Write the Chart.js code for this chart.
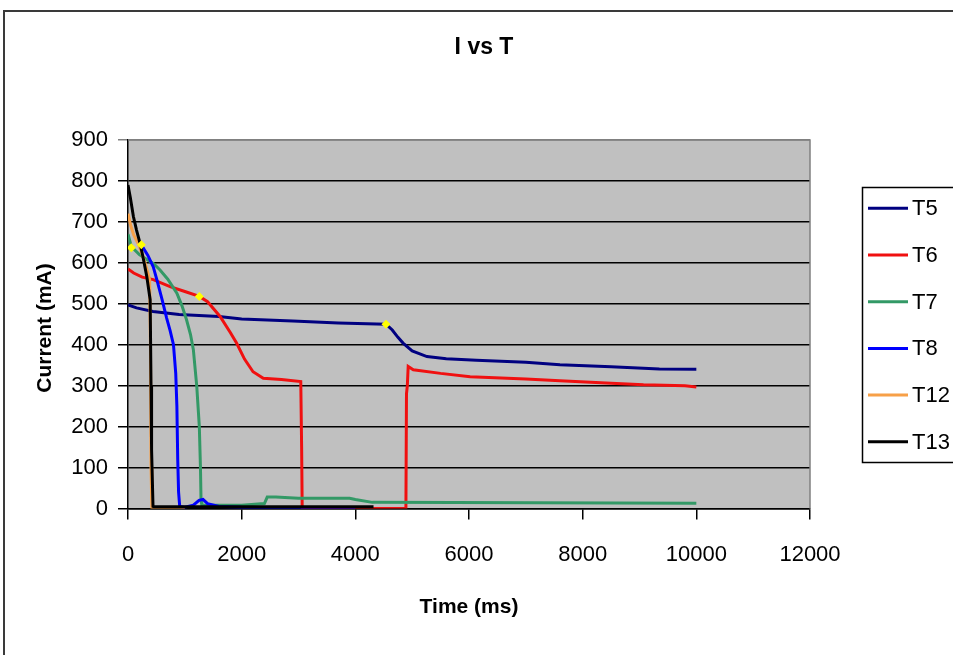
<!DOCTYPE html>
<html>
<head>
<meta charset="utf-8">
<script src="https://cdn.jsdelivr.net/npm/chart.js@4"></script>
<style>
  html, body { margin: 0; padding: 0; background: #ffffff; }
  #wrap { position: relative; width: 953px; height: 655px; }
</style>
</head>
<body>
<div id="wrap"><canvas id="c"></canvas></div>
<script>
// ---- Data ----
const chartTitle = "I vs T";
const xAxisTitle = "Time (ms)";
const yAxisTitle = "Current (mA)";
const seriesNames = ["T5", "T6", "T7", "T8", "T12", "T13"];
const seriesColors = ["#000080", "#F01010", "#339966", "#0000FF", "#F7A048", "#000000"];

const t5Time    = [0, 150, 440, 900, 1600, 2000, 2900, 3700, 4540, 4650, 4750, 4840, 5000, 5260, 5600, 6130, 7000, 7600, 8500, 9350, 10000];
const t5Current = [497, 490, 481, 474, 469, 463, 458, 453, 450, 436, 418, 404, 385, 371, 366, 362, 357, 351, 346, 341, 340];

const t6Time    = [0, 100, 250, 445, 740, 1000, 1255, 1400, 1620, 1800, 1910, 2050, 2200, 2380, 2700, 3040, 3055, 3065, 4890, 4900, 4915, 4930, 5020, 5500, 6020, 7000, 7600, 8500, 9070, 9800, 10000];
const t6Current = [585, 575, 565, 559, 542, 530, 518, 505, 469, 430, 404, 365, 334, 318, 315, 310, 150, 0, 0, 280, 300, 347, 339, 330, 322, 316, 312, 306, 302, 300, 297];

const t7Time    = [0, 58, 200, 450, 560, 700, 860, 950, 1030, 1100, 1150, 1210, 1255, 1275, 1285, 1300, 2000, 2400, 2450, 2600, 3000, 3500, 3900, 4000, 4300, 10000];
const t7Current = [670, 640, 620, 598, 583, 560, 526, 495, 461, 425, 388, 298, 200, 100, 20, 8, 8, 12, 28, 28, 25, 25, 25, 22, 15, 13];

const t8Time    = [234, 350, 445, 505, 600, 680, 740, 800, 840, 860, 875, 890, 910, 1000, 1150, 1250, 1320, 1400, 1600, 2000, 4000];
const t8Current = [644, 618, 590, 560, 510, 465, 435, 400, 330, 250, 120, 40, 5, 3, 8, 20, 22, 12, 5, 3, 2];

const t12Time    = [0, 50, 100, 200, 300, 380, 395, 405, 420, 500, 1000];
const t12Current = [720, 690, 668, 640, 600, 560, 400, 100, 0, 0, 0];

const t13Time    = [0, 40, 95, 150, 210, 270, 330, 390, 405, 415, 440, 460, 4320];
const t13Current = [790, 760, 713, 680, 649, 610, 567, 510, 300, 143, 5, 4, 4];

const markerTime    = [58, 234, 1255, 4540];
const markerCurrent = [637, 644, 518, 450];

const xTicks = [0, 2000, 4000, 6000, 8000, 10000, 12000];
const yTicks = [0, 100, 200, 300, 400, 500, 600, 700, 800, 900];

// ---- Build datasets ----
const seriesTimes = [t5Time, t6Time, t7Time, t8Time, t12Time, t13Time];
const seriesCurrents = [t5Current, t6Current, t7Current, t8Current, t12Current, t13Current];
const pair = (xs, ys) => xs.map((x, i) => ({ x: x, y: ys[i] }));

const datasets = seriesNames.map((name, i) => ({
  label: name,
  data: pair(seriesTimes[i], seriesCurrents[i]),
  borderColor: seriesColors[i],
  backgroundColor: seriesColors[i],
  borderWidth: 3,
  showLine: true,
  pointRadius: 0,
  pointHoverRadius: 0,
  tension: 0,
  order: seriesNames.length - i   // later series drawn on top, like the original
}));
datasets.push({
  label: "markers",
  data: pair(markerTime, markerCurrent),
  showLine: false,
  pointStyle: "rectRot",
  pointRadius: 4.5,
  backgroundColor: "#FFFF00",
  borderColor: "#FFFF00",
  borderWidth: 0,
  order: 0
});

const FONT = "'Liberation Sans', Arial, sans-serif";

const decorPlugin = {
  id: "decor",
  beforeDraw(chart) {
    const ctx = chart.ctx, a = chart.chartArea;
    ctx.save();
    ctx.fillStyle = "#ffffff";
    ctx.fillRect(0, 0, chart.width, chart.height);
    // outer chart border
    ctx.strokeStyle = "#3a3a3a";
    ctx.lineWidth = 2;
    ctx.strokeRect(4, 11, chart.width + 20, chart.height + 20);
    // plot area background
    ctx.fillStyle = "#C0C0C0";
    ctx.fillRect(a.left, a.top, a.right - a.left, a.bottom - a.top);
    ctx.restore();
  },
  beforeDatasetsDraw(chart) {
    const ctx = chart.ctx, a = chart.chartArea;
    ctx.save();
    ctx.strokeStyle = "#808080";
    ctx.lineWidth = 1.5;
    ctx.beginPath();
    ctx.moveTo(a.left, a.top);
    ctx.lineTo(a.right, a.top);
    ctx.lineTo(a.right, a.bottom);
    ctx.stroke();
    ctx.restore();
  },
  afterDraw(chart) {
    const ctx = chart.ctx, a = chart.chartArea;
    ctx.save();
    ctx.fillStyle = "#000000";
    // chart title
    ctx.font = "bold 23px " + FONT;
    ctx.textAlign = "center";
    ctx.textBaseline = "middle";
    ctx.fillText(chartTitle, 484, 48);
    // x axis title
    ctx.font = "bold 21px " + FONT;
    ctx.fillText(xAxisTitle, (a.left + a.right) / 2, 607);
    // y axis title
    ctx.save();
    ctx.translate(45, 328);
    ctx.rotate(-Math.PI / 2);
    ctx.fillText(yAxisTitle, 0, 0);
    ctx.restore();

    // legend
    const lx = 862.5, ly = 187.5;
    ctx.fillStyle = "#ffffff";
    ctx.fillRect(lx, ly, 200, 275);
    ctx.strokeStyle = "#000000";
    ctx.lineWidth = 1.5;
    ctx.strokeRect(lx, ly, 200, 275);
    ctx.font = "22px " + FONT;
    ctx.textAlign = "left";
    ctx.textBaseline = "middle";
    const items = chart.data.datasets.filter(d => d.label !== "markers");
    items.forEach((d, i) => {
      const y = 208.3 + i * 46.7;
      ctx.strokeStyle = d.borderColor;
      ctx.lineWidth = 3;
      ctx.beginPath();
      ctx.moveTo(868, y);
      ctx.lineTo(908, y);
      ctx.stroke();
      ctx.fillStyle = "#000000";
      ctx.fillText(d.label, 912, y + 1);
    });
    ctx.restore();
  }
};

new Chart(document.getElementById("c"), {
  type: "scatter",
  data: { datasets: datasets },
  options: {
    responsive: true,
    maintainAspectRatio: false,
    devicePixelRatio: 1,
    animation: false,
    events: [],
    layout: { padding: { top: 140, right: 143, left: 0, bottom: 0 } },
    plugins: {
      legend: { display: false },
      title: { display: false },
      tooltip: { enabled: false }
    },
    scales: {
      x: {
        type: "linear",
        min: xTicks[0],
        max: xTicks[xTicks.length - 1],
        afterFit(s) { s.height = 146.5; },
        afterBuildTicks(s) { s.ticks = xTicks.map(v => ({ value: v })); },
        ticks: {
          color: "#000000",
          font: { family: FONT, size: 22 },
          padding: 22,
          maxRotation: 0,
          autoSkip: false,
          callback: v => String(v)
        },
        grid: {
          drawOnChartArea: false,
          drawTicks: true,
          tickLength: 11,
          color: "#000000",
          lineWidth: 1.5
        },
        border: { display: true, color: "#000000", width: 1.5 }
      },
      y: {
        type: "linear",
        min: yTicks[0],
        max: yTicks[yTicks.length - 1],
        afterFit(s) { s.width = 128; },
        afterBuildTicks(s) { s.ticks = yTicks.map(v => ({ value: v })); },
        ticks: {
          color: "#000000",
          font: { family: FONT, size: 22 },
          padding: 10,
          autoSkip: false,
          callback: v => String(v)
        },
        grid: {
          drawTicks: true,
          tickLength: 10,
          color: ctx => (ctx.tick && ctx.tick.value === 900 ? "#808080" : "#000000"),
          lineWidth: 1.5
        },
        border: { display: true, color: "#000000", width: 1.5 }
      }
    }
  },
  plugins: [decorPlugin]
});
</script>
</body>
</html>
